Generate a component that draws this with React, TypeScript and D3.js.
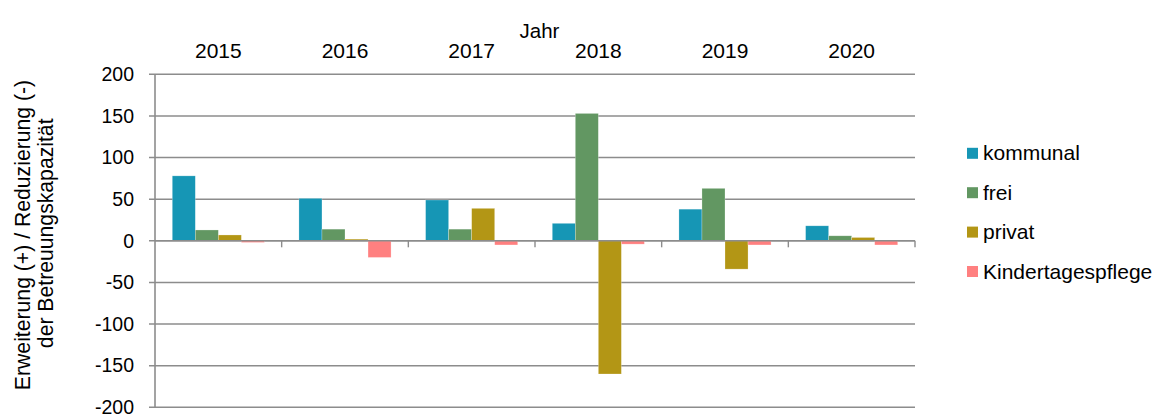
import React from "react";
import * as d3 from "d3";

const years = ["2015", "2016", "2017", "2018", "2019", "2020"];
const seriesNames = ["kommunal", "frei", "privat", "Kindertagespflege"];
const kommunal = [78, 51, 49, 21, 38, 18];
const frei = [13, 14, 14, 153, 63, 6];
const privat = [7, 2, 39, -160, -34, 4];
const kindertagespflege = [-2, -20, -5, -4, -5, -5];
const yTicks = [200, 150, 100, 50, 0, -50, -100, -150, -200];
const colors = ["#1696B5", "#629762", "#B39615", "#FF8080"];

const W = 1162;
const H = 414;
const left = 155;
const right = 915;
const top = 74.3;
const bottom = 407.3;
const FONT = "'Liberation Sans', Arial, Helvetica, sans-serif";

export default function App() {
  const series = [kommunal, frei, privat, kindertagespflege];
  const x = d3.scaleBand<string>().domain(years).range([left, right]).paddingInner(0).paddingOuter(0);
  const inner = d3
    .scaleBand<string>()
    .domain(seriesNames)
    .range([0, x.bandwidth()])
    .paddingOuter(0.75)
    .paddingInner(0);
  const y = d3.scaleLinear().domain([-200, 200]).range([bottom, top]);
  const y0 = y(0);
  const grid = "#8c8c8c";

  return (
    <svg
      width={W}
      height={H}
      style={{ position: "absolute", left: 0, top: 0, background: "#fff" }}
      fontFamily={FONT}
    >
      {yTicks.map((t) => (
        <g key={t}>
          <line x1={left - 6} x2={right} y1={y(t)} y2={y(t)} stroke={grid} strokeWidth={1.4} />
          <text x={134} y={y(t) + 6.8} textAnchor="end" fontSize={19.5} fill="#000">
            {t}
          </text>
        </g>
      ))}
      {years.map((yr, i) => (
        <g key={yr}>
          {series.map((s, j) => {
            const v = s[i];
            const bx = (x(yr) as number) + (inner(seriesNames[j]) as number);
            const by = Math.min(y(v), y0);
            const bh = Math.abs(y(v) - y0);
            return (
              <rect
                key={j}
                x={bx}
                y={by}
                width={inner.bandwidth()}
                height={bh}
                fill={colors[j]}
                stroke="#ffffff"
                strokeOpacity={0.4}
                strokeWidth={0.6}
              />
            );
          })}
        </g>
      ))}
      <line x1={left} x2={right} y1={y0} y2={y0} stroke={grid} strokeWidth={1.6} />
      {years.map((yr) => (
        <line
          key={"t" + yr}
          x1={(x(yr) as number) + x.bandwidth()}
          x2={(x(yr) as number) + x.bandwidth()}
          y1={y0}
          y2={y0 + 6.5}
          stroke={grid}
          strokeWidth={1.4}
        />
      ))}
      <line x1={left} x2={left} y1={top} y2={bottom} stroke={grid} strokeWidth={1.6} />
      {years.map((yr) => (
        <text
          key={"l" + yr}
          x={(x(yr) as number) + x.bandwidth() / 2}
          y={57.7}
          textAnchor="middle"
          fontSize={21}
          fill="#000"
        >
          {yr}
        </text>
      ))}
      <text x={539.5} y={38.3} textAnchor="middle" fontSize={20.5} fill="#000">
        Jahr
      </text>
      <text
        transform={`translate(29.5,235) rotate(-90)`}
        textAnchor="middle"
        fontSize={21.2}
        fill="#000"
      >
        Erweiterung (+) / Reduzierung (-)
      </text>
      <text
        transform={`translate(53.3,233.3) rotate(-90)`}
        textAnchor="middle"
        fontSize={21.2}
        fill="#000"
      >
        der Betreuungskapazität
      </text>
      {seriesNames.map((n, j) => {
        const cy = 153.3 + j * 39.4;
        return (
          <g key={"lg" + n}>
            <rect x={967} y={cy - 5.5} width={11} height={11} fill={colors[j]} />
            <text x={983} y={cy + 7} fontSize={21} fill="#000">
              {n}
            </text>
          </g>
        );
      })}
    </svg>
  );
}
